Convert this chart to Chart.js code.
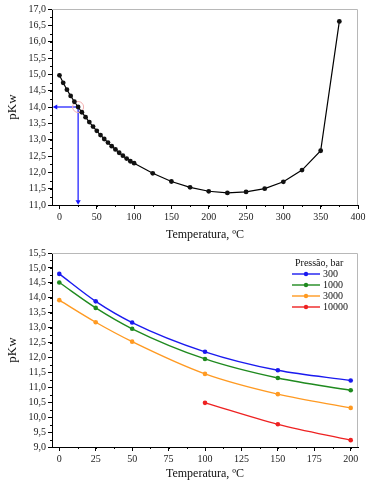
<!DOCTYPE html>
<html>
<head>
<meta charset="utf-8">
<script src="https://cdn.jsdelivr.net/npm/chart.js@4.4.1/dist/chart.umd.min.js"></script>
<style>
  html, body { margin: 0; padding: 0; background: #fff; }
  .box { position: relative; width: 370px; }
  #top_box { height: 245px; }
  #bottom_box { height: 239px; }
</style>
</head>
<body>
<div class="box" id="top_box"><canvas id="pkw_sat_chart"></canvas></div>
<div class="box" id="bottom_box"><canvas id="pkw_press_chart"></canvas></div>
<script>
// top chart: pKw along saturation curve
const tempTop = [0, 5, 10, 15, 20, 25, 30, 35, 40, 45, 50, 55, 60, 65, 70, 75, 80, 85, 90, 95, 100,
                 125, 150, 175, 200, 225, 250, 275, 300, 325, 350, 375];
const pkwTop  = [14.97, 14.74, 14.53, 14.34, 14.16, 14.00, 13.84, 13.69, 13.54, 13.40, 13.27,
                 13.14, 13.02, 12.91, 12.80, 12.70, 12.60, 12.51, 12.42, 12.34, 12.28,
                 11.97, 11.72, 11.54, 11.42, 11.37, 11.40, 11.50, 11.71, 12.07, 12.66, 16.62];
const arrowLeft = [[25, 14.0], [-5, 14.0]];
const arrowDown = [[25, 14.0], [25, 11.1]];
const markPoint = [[25, 14.0]];
const xTicksTop = [0, 50, 100, 150, 200, 250, 300, 350, 400];
const yTicksTop = [11, 11.5, 12, 12.5, 13, 13.5, 14, 14.5, 15, 15.5, 16, 16.5, 17];

// bottom chart: pKw at several pressures
const tempBottom = [0, 25, 50, 100, 150, 200];
const pressLabels = ['300', '1000', '3000', '10000'];
const p300   = [14.80, 13.88, 13.17, 12.19, 11.57, 11.23];
const p1000  = [14.51, 13.66, 12.96, 11.95, 11.31, 10.90];
const p3000  = [13.92, 13.18, 12.53, 11.45, 10.77, 10.31];
const p10000 = [null, null, null, 10.48, 9.76, 9.23];
const xTicksBottom = [0, 25, 50, 75, 100, 125, 150, 175, 200];
const yTicksBottom = [9, 9.5, 10, 10.5, 11, 11.5, 12, 12.5, 13, 13.5, 14, 14.5, 15, 15.5];

const serif = "'Liberation Serif', 'DejaVu Serif', serif";
const tickFont = { family: serif, size: 10 };
const comma = v => Number(v).toFixed(1).replace('.', ',');
const toXY = (xs, ys) => xs.map((x, i) => ({ x: x, y: ys[i] })).filter(p => p.y !== null);
const pairs = arr => arr.map(p => ({ x: p[0], y: p[1] }));

// gray frame on top/right + short minor ticks
const frameAndMinor = {
    id: 'frameAndMinor',
    beforeDatasetsDraw(chart, args, opts) {
        const { ctx, chartArea: a, scales } = chart;
        ctx.save();
        ctx.strokeStyle = '#b8b8b8';
        ctx.lineWidth = 1;
        ctx.beginPath();
        ctx.moveTo(a.left, a.top + 0.5);
        ctx.lineTo(a.right - 0.5, a.top + 0.5);
        ctx.lineTo(a.right - 0.5, a.bottom);
        ctx.stroke();

        ctx.strokeStyle = '#000';
        ctx.beginPath();
        const xs = scales.x, ys = scales.y;
        for (let v = opts.xFrom; v <= xs.max; v += opts.xMinor) {
            const px = Math.round(xs.getPixelForValue(v)) + 0.5;
            ctx.moveTo(px, a.bottom);
            ctx.lineTo(px, a.bottom + 2);
        }
        for (let v = ys.min; v <= ys.max; v += opts.yMinor) {
            const py = Math.round(ys.getPixelForValue(v)) + 0.5;
            ctx.moveTo(a.left, py);
            ctx.lineTo(a.left - 2, py);
        }
        ctx.stroke();
        ctx.restore();
    }
};

// legend inside plot, top right
const pressLegend = {
    id: 'pressLegend',
    afterDraw(chart) {
        const { ctx, chartArea: a } = chart;
        const x0 = a.right - 66;
        let y = a.top + 10;
        ctx.save();
        ctx.font = '10px ' + serif;
        ctx.fillStyle = '#111';
        ctx.textBaseline = 'middle';
        ctx.textAlign = 'left';
        ctx.fillText('Pressão, bar', x0 + 3, y);
        chart.data.datasets.forEach(ds => {
            y += 11;
            ctx.strokeStyle = ds.borderColor;
            ctx.lineWidth = 1.4;
            ctx.beginPath();
            ctx.moveTo(x0, y);
            ctx.lineTo(x0 + 28, y);
            ctx.stroke();
            ctx.fillStyle = ds.borderColor;
            ctx.beginPath();
            ctx.arc(x0 + 14, y, 2.2, 0, Math.PI * 2);
            ctx.fill();
            ctx.fillStyle = '#111';
            ctx.fillText(ds.label, x0 + 31, y);
        });
        ctx.restore();
    }
};

function axisX(min, max, ticks, h) {
    return {
        type: 'linear', min: min, max: max,
        afterBuildTicks: s => { s.ticks = ticks.map(v => ({ value: v })); },
        afterFit: s => { s.height = h; },
        ticks: { font: tickFont, color: '#222', padding: 2, autoSkip: false, maxRotation: 0 },
        grid: { drawOnChartArea: false, tickLength: 4, color: '#000' },
        border: { color: '#000', width: 1 },
        title: { display: true, text: 'Temperatura, ºC', color: '#111', font: { family: serif, size: 12 }, padding: { top: 2, bottom: 3 } }
    };
}

function axisY(min, max, ticks) {
    return {
        type: 'linear', min: min, max: max,
        afterBuildTicks: s => { s.ticks = ticks.map(v => ({ value: v })); },
        afterFit: s => { s.width = 49; },
        ticks: { font: tickFont, color: '#222', padding: 2, autoSkip: false, callback: v => comma(v) },
        grid: { drawOnChartArea: false, tickLength: 4, color: '#000' },
        border: { color: '#000', width: 1 },
        title: { display: true, text: 'pKw', color: '#111', font: { family: serif, size: 13 }, padding: { top: 2, bottom: 3 } }
    };
}

const topCtx = document.getElementById('pkw_sat_chart');

new Chart(topCtx, {
    type: 'scatter',
    data: {
        datasets: [{
            label: 'pKw',
            data: toXY(tempTop, pkwTop),
            showLine: true,
            borderColor: '#000',
            backgroundColor: '#111',
            borderWidth: 1.2,
            pointRadius: 2.4,
            pointBorderWidth: 0
        }, {
            label: 'mark',
            data: pairs(markPoint),
            pointRadius: 5.5,
            pointBorderWidth: 1,
            borderColor: '#f4b0b0',
            backgroundColor: 'rgba(0,0,0,0)'
        }, {
            label: 'arrowLeft',
            data: pairs(arrowLeft),
            showLine: true,
            borderColor: '#1414ff',
            backgroundColor: '#1414ff',
            borderWidth: 1.2,
            pointStyle: 'triangle',
            pointRadius: [0, 3],
            pointRotation: -90,
            pointBorderWidth: 0,
            clip: false
        }, {
            label: 'arrowDown',
            data: pairs(arrowDown),
            showLine: true,
            borderColor: '#1414ff',
            backgroundColor: '#1414ff',
            borderWidth: 1.2,
            pointStyle: 'triangle',
            pointRadius: [0, 3],
            pointRotation: 180,
            pointBorderWidth: 0,
            clip: false
        }]
    },
    options: {
        responsive: true,
        maintainAspectRatio: false,
        animation: false,
        layout: { padding: { left: 3, right: 12, top: 9, bottom: 0 } },
        plugins: {
            legend: { display: false },
            tooltip: { enabled: false },
            frameAndMinor: { xFrom: 0, xMinor: 25, yMinor: 0.25 }
        },
        scales: {
            x: axisX(-10, 400, xTicksTop, 40),
            y: axisY(11, 17, yTicksTop)
        }
    },
    plugins: [frameAndMinor]
});


const pressCtx = document.getElementById('pkw_press_chart');
const pressColors = ['#1a1aef', '#1f8a1f', '#ff9a22', '#ee2222'];
const pressSeries = [p300, p1000, p3000, p10000];

new Chart(pressCtx, {
    type: 'scatter',
    data: {
        datasets: pressSeries.map((vals, i) => ({
            label: pressLabels[i],
            data: toXY(tempBottom, vals),
            showLine: true,
            borderColor: pressColors[i],
            backgroundColor: pressColors[i],
            borderWidth: 1.4,
            pointRadius: 2.3,
            pointBorderWidth: 0,
            cubicInterpolationMode: 'monotone'
        }))
    },
    options: {
        responsive: true,
        maintainAspectRatio: false,
        animation: false,
        layout: { padding: { left: 3, right: 12, top: 7, bottom: 0 } },
        plugins: {
            legend: { display: false },
            tooltip: { enabled: false },
            frameAndMinor: { xFrom: 0, xMinor: 12.5, yMinor: 0.25 }
        },
        scales: {
            x: axisX(-5, 205, xTicksBottom, 37),
            y: axisY(9, 15.5, yTicksBottom)
        }
    },
    plugins: [frameAndMinor, pressLegend]
});
</script>
</body>
</html>
